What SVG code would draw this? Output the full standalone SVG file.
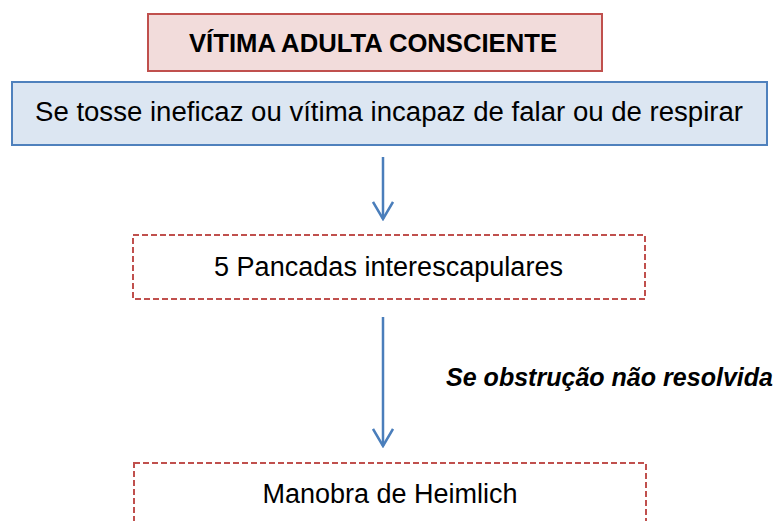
<svg xmlns="http://www.w3.org/2000/svg" width="774" height="521" viewBox="0 0 774 521">
  <style>
    .txt { font-family: "Liberation Sans", Arial, sans-serif; fill: #000; }
    .title { font-weight: bold; font-size: 25px; }
    .body { font-size: 27px; }
    .label { font-weight: bold; font-style: italic; font-size: 25px; }
    .dash { fill: #ffffff; stroke: #c0504d; stroke-width: 2; stroke-dasharray: 6 3; }
    .conn { stroke: #4a7ebb; stroke-width: 2.5; fill: none; }
  </style>
  <defs>
    <marker id="arr" viewBox="0 0 20 22" markerWidth="20" markerHeight="22" refX="18" refY="11" markerUnits="userSpaceOnUse" orient="auto">
      <path d="M1,1 L18,11 L1,21" fill="none" stroke="#4a7ebb" stroke-width="2.5"/>
    </marker>
  </defs>
  <rect width="774" height="521" fill="#ffffff"/>

  <g id="node-title">
    <rect x="148" y="14" width="454" height="57" fill="#f2dcdb" stroke="#c0504d" stroke-width="2"/>
    <text class="txt title" x="373" y="52" text-anchor="middle" textLength="368" lengthAdjust="spacingAndGlyphs">VÍTIMA ADULTA CONSCIENTE</text>
  </g>

  <g id="node-condition">
    <rect x="12" y="82" width="755" height="63" fill="#dce6f2" stroke="#4f81bd" stroke-width="2"/>
    <text class="txt body" x="389" y="121" text-anchor="middle" textLength="708" lengthAdjust="spacingAndGlyphs">Se tosse ineficaz ou vítima incapaz de falar ou de respirar</text>
  </g>

  <g id="node-pancadas">
    <rect class="dash" x="133" y="235" width="512" height="64"/>
    <text class="txt body" x="388.5" y="276" text-anchor="middle" textLength="349" lengthAdjust="spacingAndGlyphs">5 Pancadas interescapulares</text>
  </g>

  <g id="node-heimlich">
    <rect class="dash" x="134" y="463" width="512" height="80"/>
    <text class="txt body" x="390" y="503" text-anchor="middle">Manobra de Heimlich</text>
  </g>

  <g id="connectors">
    <line class="conn" x1="383" y1="157" x2="383" y2="219" marker-end="url(#arr)"/>
    <line class="conn" x1="383" y1="317" x2="383" y2="446" marker-end="url(#arr)"/>
    <text class="txt label" x="446" y="386" textLength="327" lengthAdjust="spacingAndGlyphs">Se obstrução não resolvida</text>
  </g>
</svg>
